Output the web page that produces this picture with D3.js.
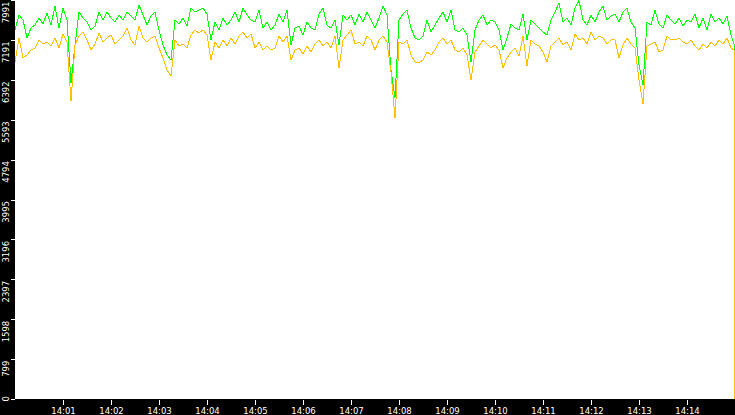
<!DOCTYPE html>
<html>
<head>
<meta charset="utf-8">
<script src="https://cdn.jsdelivr.net/npm/d3@7"></script>
<style>
  html, body { margin: 0; padding: 0; background: #fff; overflow: hidden; }
  svg { display: block; }
  .axis text { fill: #fff; font-family: "DejaVu Sans", sans-serif; font-size: 8.5px; }
  .axis line { stroke: #fff; shape-rendering: crispEdges; }
  .axis path { display: none; }
  .series { fill: none; stroke-width: 1; shape-rendering: crispEdges; }
</style>
</head>
<body>
<svg id="vis" width="735" height="415"></svg>
<script>
// magic numbers for the plot box
const WIDTH = 735, HEIGHT = 415;
const MARGINS = {top: 0, right: 0, bottom: 16, left: 15};

// sample clock: one reading every 5 s, then the last reading and the drop at the edge
const START_TIME = "14:00:00";
const END_TIME = "14:15:00";
const STEP_SECONDS = 5;
const TAIL_TIMES = ["14:14:59", "14:14:59"];

const X_TICKS = ["14:01", "14:02", "14:03", "14:04", "14:05", "14:06", "14:07",
                 "14:08", "14:09", "14:10", "14:11", "14:12", "14:13", "14:14"];
const Y_TICKS = [0, 799, 1598, 2397, 3196, 3995, 4794, 5593, 6392, 7191, 7991];

const GREEN_VALUES = [
  7390, 7690, 7590, 7230, 7430, 7490, 7630, 7510, 7730, 7490, 7870, 7430, 7830, 7590, 6330, 7090, 7750, 7630, 7550, 7390, 7470, 7750, 7590, 7750, 7630, 7550, 7690, 7590, 7750, 7670,
  7590, 7890, 7690, 7490, 7670, 7750, 7390, 7090, 6890, 6790, 7590, 7510, 7630, 7470, 7830, 7750, 7790, 7830, 7710, 7190, 7550, 7390, 7630, 7490, 7590, 7750, 7550, 7830, 7690, 7590,
  7550, 7790, 7430, 7550, 7390, 7490, 7710, 7550, 7790, 7090, 7430, 7470, 7290, 7550, 7430, 7390, 7710, 7830, 7490, 7430, 7590, 7090, 7690, 7590, 7690, 7490, 7710, 7550, 7750, 7590,
  7430, 7630, 7870, 7690, 6590, 6030, 7590, 7710, 7790, 7430, 7230, 7190, 7270, 7590, 7350, 7490, 7630, 7750, 7550, 7790, 7390, 7350, 7430, 7290, 6750, 7390, 7590, 7690, 7490, 7590,
  7550, 7390, 6990, 7230, 7510, 7430, 7390, 7710, 7190, 7590, 7510, 7430, 7350, 7290, 7590, 7750, 7930, 7550, 7630, 7490, 7830, 7980, 7590, 7490, 7690, 7550, 7750, 7870, 7590, 7670,
  7710, 7550, 7750, 7830, 7550, 7430, 6690, 6290, 7550, 7490, 7790, 7510, 7430, 7690, 7590, 7510, 7630, 7470, 7590, 7550, 7710, 7430, 7630, 7390, 7710, 7550, 7630, 7510, 7670, 7290,
  7090, 3545
];

const ORANGE_VALUES = [
  6750, 7230, 6830, 6890, 6990, 7030, 7190, 7110, 7150, 7070, 7230, 7030, 7310, 7150, 5970, 7090, 7270, 7350, 7190, 6990, 7110, 7330, 7150, 7230, 7290, 7110, 7190, 7270, 7430, 7190,
  7090, 7470, 7230, 7150, 7230, 7270, 7030, 6830, 6590, 6470, 7190, 7070, 7110, 7030, 7290, 7390, 7330, 7390, 7290, 6790, 7150, 7030, 7190, 7070, 7230, 7110, 7270, 7350, 7230, 7310,
  7030, 7150, 6990, 7070, 6990, 7030, 7270, 7150, 7270, 6790, 6990, 7030, 6910, 7070, 6950, 7110, 7190, 7070, 7150, 7030, 7270, 6630, 7190, 7290, 7390, 7110, 7150, 7070, 7270, 7190,
  6990, 7190, 7270, 7150, 6550, 5630, 7150, 7110, 7190, 6890, 6750, 6730, 6790, 6950, 6890, 6990, 7150, 7230, 7110, 7190, 6990, 6950, 7030, 6890, 6390, 6950, 7070, 7190, 7110, 7030,
  7090, 6990, 6630, 6830, 6950, 7030, 6870, 7270, 6670, 7190, 7110, 7070, 6950, 6750, 7070, 7150, 7230, 7090, 7150, 6990, 7310, 7190, 7230, 7110, 7350, 7190, 7270, 7230, 7110, 7190,
  7190, 6830, 7090, 7230, 7110, 7030, 6390, 5910, 7070, 7110, 7150, 6950, 6990, 7270, 7190, 7190, 7230, 7150, 7110, 7190, 7070, 6990, 7110, 7030, 7150, 7070, 7190, 7110, 7230, 7030,
  6990, 0
];

const COLORS = {green: "#00ff00", orange: "#ffc000"};

const parseTime = d3.timeParse("%H:%M:%S");
const parseMinute = d3.timeParse("%H:%M");

var svg = d3.select("#vis");
var plotBottom = HEIGHT - MARGINS.bottom;

// time stamps of the readings
var t0 = parseTime(START_TIME);
var regularCount = GREEN_VALUES.length - TAIL_TIMES.length;
var sampleTimes = d3.range(regularCount).map(function(i){
    return d3.timeSecond.offset(t0, i * STEP_SECONDS);
}).concat(TAIL_TIMES.map(parseTime));

var xScale = d3.scaleTime()
    .domain([t0, parseTime(END_TIME)])
    .range([MARGINS.left, WIDTH]);

var yScale = d3.scaleLinear()
    .domain([0, Y_TICKS[Y_TICKS.length - 1]])
    .range([plotBottom, MARGINS.top]);

// black frame strips
svg.append("rect").attr("x", 0).attr("y", 0)
    .attr("width", MARGINS.left).attr("height", HEIGHT).attr("fill", "#000");
svg.append("rect").attr("x", 0).attr("y", plotBottom)
    .attr("width", WIDTH).attr("height", MARGINS.bottom).attr("fill", "#000");

// lines
var line = d3.line()
    .x(function(d){ return xScale(d.t); })
    .y(function(d){ return yScale(d.v); });

function series(values){
    return values.map(function(v, i){ return {t: sampleTimes[i], v: v}; });
}

svg.append("path").attr("class", "series")
    .attr("stroke", COLORS.green)
    .attr("d", line(series(GREEN_VALUES)));
svg.append("path").attr("class", "series")
    .attr("stroke", COLORS.orange)
    .attr("d", line(series(ORANGE_VALUES)));

// x axis
var xAxis = d3.axisBottom(xScale)
    .tickValues(X_TICKS.map(parseMinute))
    .tickFormat(d3.timeFormat("%H:%M"))
    .tickSize(5);
var gx = svg.append("g").attr("class", "axis")
    .attr("transform", `translate(0, ${plotBottom + 1})`)
    .call(xAxis);
gx.selectAll("text").attr("y", 14).attr("dy", null);

// y axis with rotated labels
var yAxis = d3.axisLeft(yScale)
    .tickValues(Y_TICKS)
    .tickFormat(d3.format("d"))
    .tickSize(4);
var gy = svg.append("g").attr("class", "axis")
    .attr("transform", `translate(${MARGINS.left}, 0)`)
    .call(yAxis);
gy.selectAll(".tick text")
    .attr("x", null).attr("dy", null)
    .attr("text-anchor", "end")
    .attr("transform", function(d){
        var len = this.getComputedTextLength();
        var shift = Math.min(1, plotBottom + 2 - yScale(d) - len);
        return `translate(-6, ${shift}) rotate(-90)`;
    });
</script>
</body>
</html>
